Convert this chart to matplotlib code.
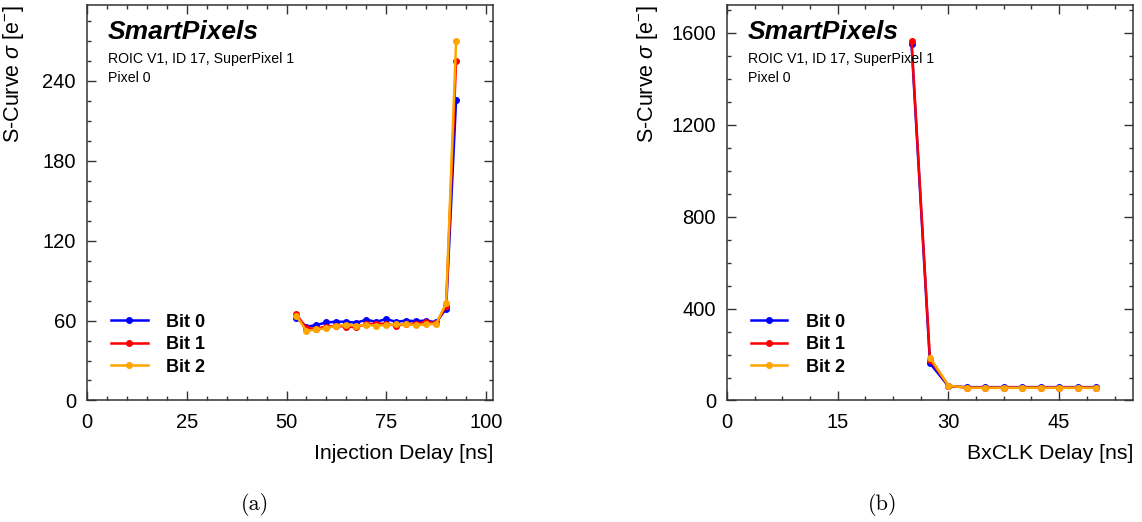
import numpy as np
import matplotlib
matplotlib.use('Agg')
import matplotlib.pyplot as plt
from matplotlib.ticker import MultipleLocator

plt.rcParams['font.family'] = ['Liberation Sans', 'DejaVu Sans']
plt.rcParams['mathtext.fontset'] = 'custom'
plt.rcParams['mathtext.rm'] = 'Liberation Sans'
plt.rcParams['mathtext.it'] = 'Liberation Sans:italic'
plt.rcParams['mathtext.bf'] = 'Liberation Sans:bold'

# Injection delay scan (a)
inj_delay = np.arange(52.5, 93.0, 2.5)
inj_bit0 = [62.1, 55.4, 56.6, 58.6, 59.1, 59.1, 58.4, 60.6, 59.1, 61.1, 59.0, 60.0, 59.5, 60.0, 58.6, 68.9, 225.9]
inj_bit1 = [64.6, 54.1, 54.0, 55.4, 56.0, 55.4, 55.0, 57.4, 57.6, 57.6, 56.0, 57.6, 57.6, 59.1, 57.9, 70.9, 254.9]
inj_bit2 = [63.4, 52.1, 53.4, 54.1, 56.2, 56.6, 56.2, 56.6, 56.2, 56.6, 57.1, 57.1, 56.6, 57.1, 57.6, 72.9, 269.9]

# BxCLK delay scan (b)
bx_delay = np.arange(25.0, 50.1, 2.5)
bx_bit0 = [1551, 162, 62, 58, 58, 58, 58, 58, 58, 58, 58]
bx_bit1 = [1565, 177, 64, 56, 56, 56, 56, 56, 56, 56, 56]
bx_bit2 = [np.nan, 187, 65, 55, 55, 55, 55, 55, 55, 55, 55]

bit_colors = ['#0000ff', '#ff0000', '#ffa500']
bit_labels = ['Bit 0', 'Bit 1', 'Bit 2']

fig = plt.figure(figsize=(11.42, 5.22), dpi=100)
ax1 = fig.add_axes([0.0762, 0.2328, 0.3555, 0.7577])
ax2 = fig.add_axes([0.6366, 0.2328, 0.3555, 0.7577])


def style_axis(ax, xmax, ymax, xmaj, xmin, ymaj, ymin, xlabel, ylab_x):
    ax.set_xlim(0, xmax * 1.1)
    ax.set_ylim(0, ymax * 1.1)
    ax.xaxis.set_major_locator(MultipleLocator(xmaj))
    ax.xaxis.set_minor_locator(MultipleLocator(xmin))
    ax.yaxis.set_major_locator(MultipleLocator(ymaj))
    ax.yaxis.set_minor_locator(MultipleLocator(ymin))
    ax.tick_params(which='both', direction='in', top=True, right=True,
                   labelsize=14.5, width=1.0, colors='#333333', labelcolor='black')
    ax.tick_params(which='major', length=6.5)
    ax.tick_params(axis='x', which='major', pad=9)
    ax.tick_params(axis='y', which='major', pad=8)
    ax.tick_params(which='minor', length=3.2)
    for s in ax.spines.values():
        s.set_linewidth(1.1)
        s.set_color('#333333')
    ax.set_xlabel(xlabel, fontsize=15.3, loc='right', labelpad=9)
    ax.set_ylabel(r'S-Curve $\sigma$ [e$^{-}$]', fontsize=15.5, loc='top')
    ax.yaxis.set_label_coords(ylab_x, 1.0)
    ax.text(0.052, 0.962, 'SmartPixels', transform=ax.transAxes, fontsize=19,
            fontweight='bold', fontstyle='italic', va='top', ha='left')
    ax.text(0.052, 0.881, 'ROIC V1, ID 17, SuperPixel 1', transform=ax.transAxes,
            fontsize=10.2, va='top', ha='left')
    ax.text(0.052, 0.833, 'Pixel 0', transform=ax.transAxes,
            fontsize=10.2, va='top', ha='left')


for ys, c, lab in zip([inj_bit0, inj_bit1, inj_bit2], bit_colors, bit_labels):
    ax1.plot(inj_delay, ys, '-o', color=c, lw=1.8, ms=4, label=lab)
for ys, c, lab in zip([bx_bit0, bx_bit1, bx_bit2], bit_colors, bit_labels):
    ax2.plot(bx_delay, ys, '-o', color=c, lw=1.8, ms=4, label=lab)

style_axis(ax1, 92.5, max(inj_bit2), 25, 5, 60, 15, 'Injection Delay [ns]', -0.150)
style_axis(ax2, 50, max(bx_bit1), 15, 3.75, 400, 100, 'BxCLK Delay [ns]', -0.164)

for ax in (ax1, ax2):
    leg = ax.legend(loc='lower left', bbox_to_anchor=(0.02, 0.022), frameon=False,
                    prop={'weight': 'bold', 'size': 13}, handlelength=2.0,
                    labelspacing=0.3, handletextpad=1.0)

fig.text(255 / 1142, 1 - 505 / 522, '(a)', fontfamily='cmr10', fontsize=16,
         ha='center', va='center')
fig.text(883 / 1142, 1 - 505 / 522, '(b)', fontfamily='cmr10', fontsize=16,
         ha='center', va='center')

fig.savefig('out.png', dpi=100)
